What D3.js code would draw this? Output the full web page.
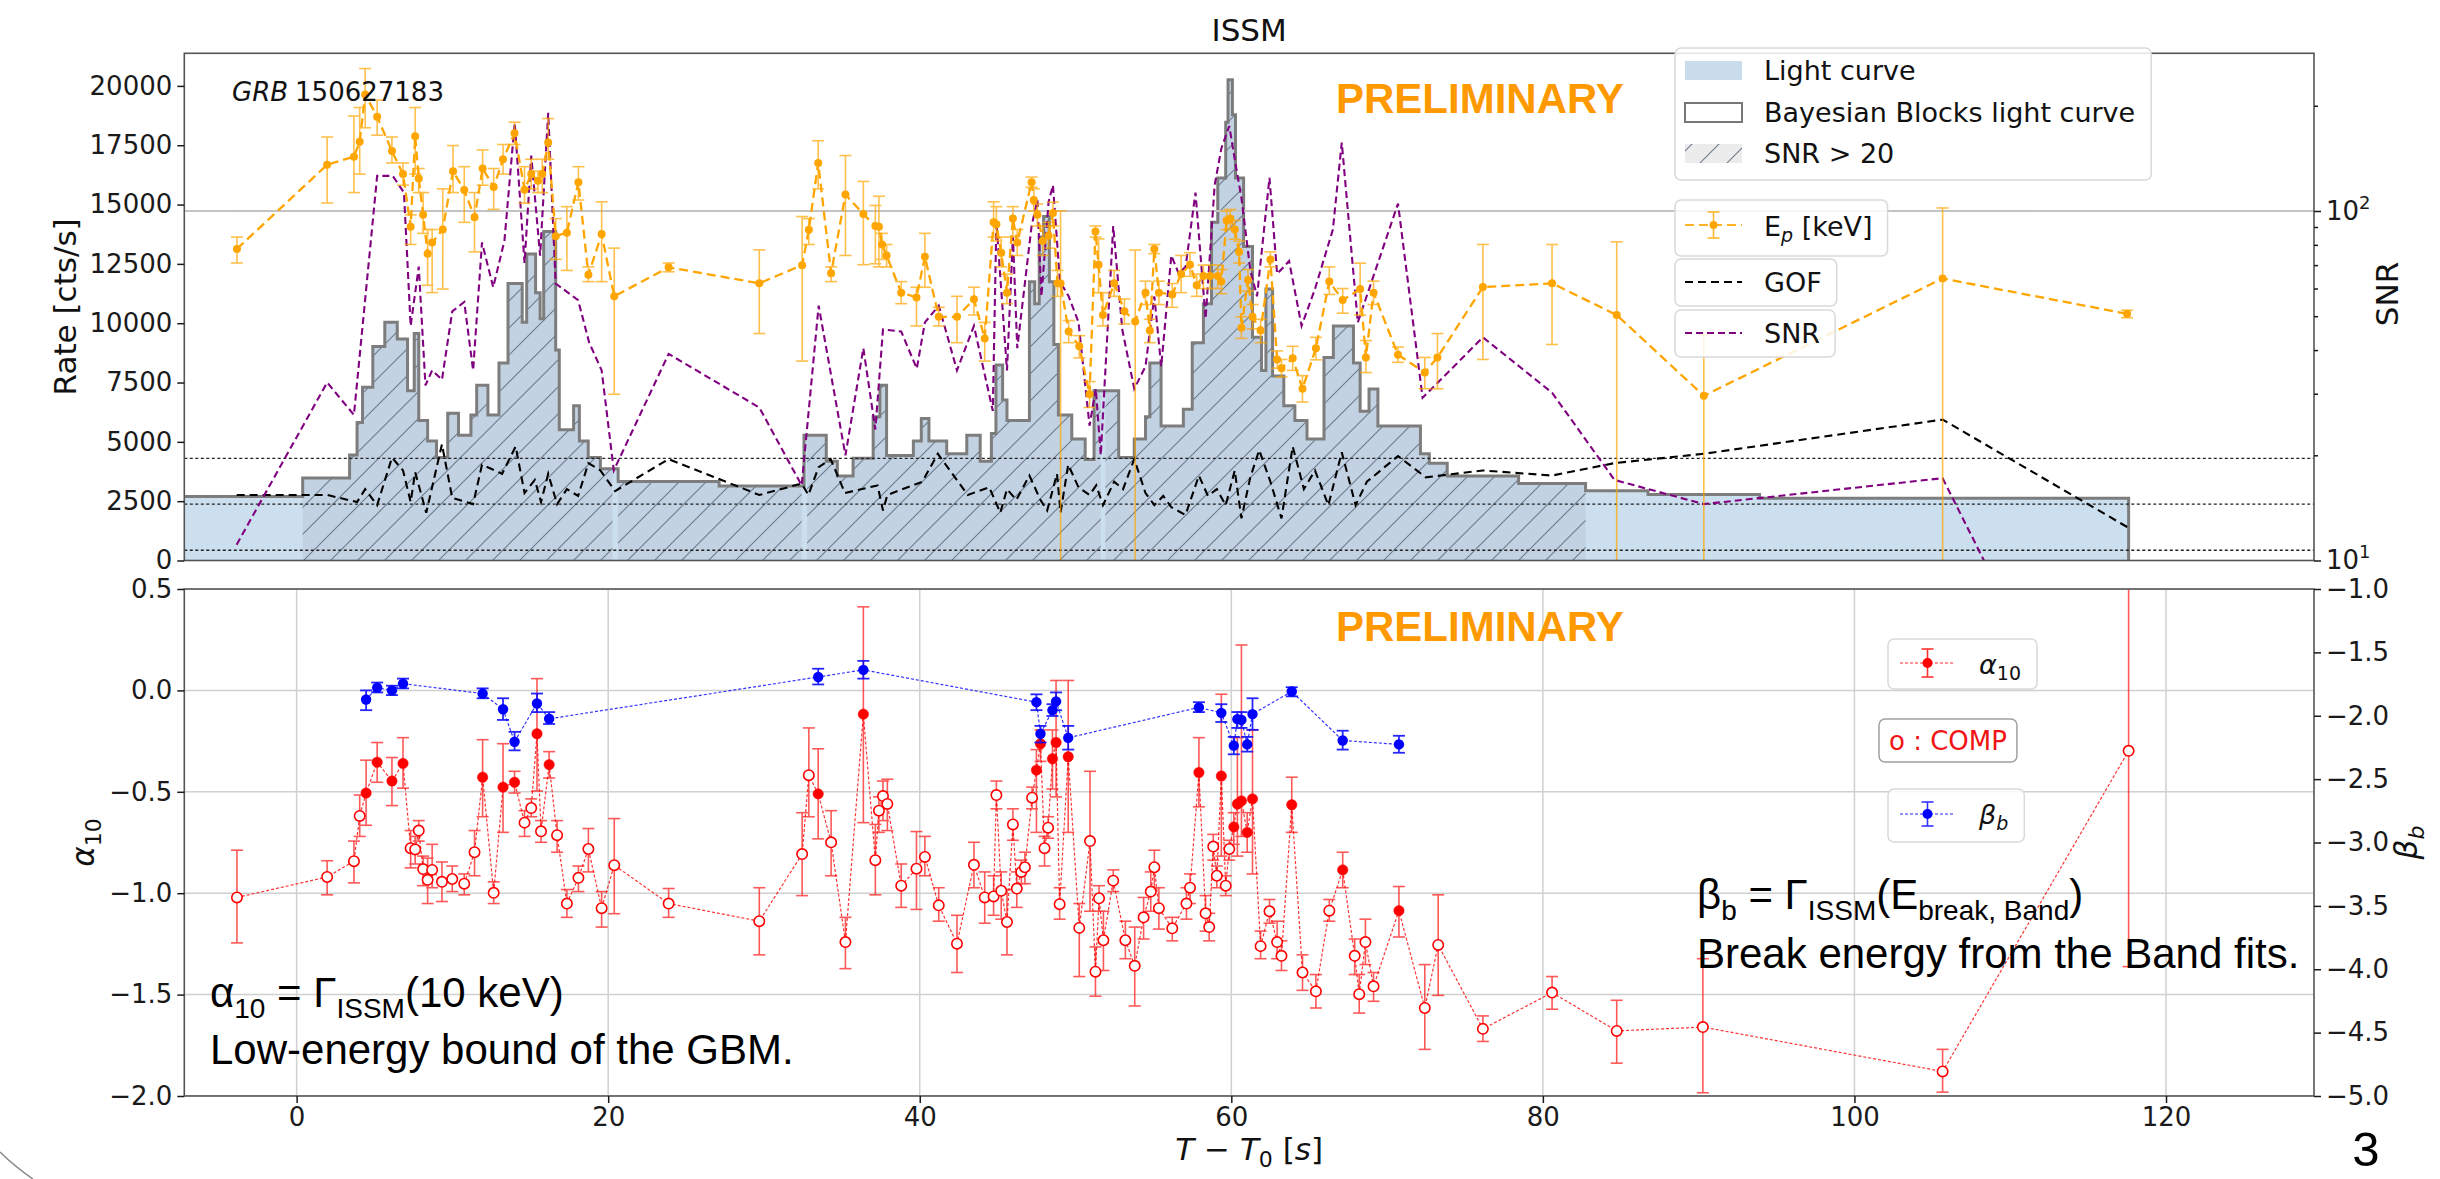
<!DOCTYPE html>
<html>
<head>
<meta charset="utf-8">
<script src="https://cdn.jsdelivr.net/npm/d3@7"></script>
<style>
html,body{margin:0;padding:0;background:#fff;}
svg{display:block;}
</style>
</head>
<body>
<svg id="chart" width="2440" height="1179"></svg>
<script>
// ---------------- data ----------------
const rateTicks = [0,2500,5000,7500,10000,12500,15000,17500,20000];
const timeTicks = [0,20,40,60,80,100,120];
const alphaTicks = [0.5,0,-0.5,-1,-1.5,-2];
const betaTicks = [-1,-1.5,-2,-2.5,-3,-3.5,-4,-4.5,-5];
const snrMajorTicks = [10,100];
const snrMinorTicks = [20,30,40,50,60,70,80,90,200];

// Bayesian-blocks light curve: [block start (s), rate (cts/s)]
const blocks = [
  [-7.5,2700],[0.39,3480],[3.40,4450],[3.88,5820],[4.23,7300],[4.89,9020],[5.66,10040],[6.46,9330],
  [7.12,7150],[7.55,9570],[7.84,5900],[8.41,5040],[8.98,4340],[9.70,6210],[10.39,5280],[11.19,6130],
  [11.56,7380],[12.28,6130],[12.99,8320],[13.57,11670],[14.48,10040],[14.77,12920],[15.34,11280],
  [15.63,10190],[15.86,13860],[16.63,8870],[16.86,5510],[17.78,6520],[18.15,5040],[18.72,4340],
  [19.50,3870],[20.64,3330],[27.12,3140],[32.57,5280],[34.00,4180],[34.71,3560],[35.72,4310],
  [37.01,6060],[37.44,7380],[37.87,4420],[39.59,5040],[40.10,5980],[40.59,5040],[41.73,4500],
  [43.02,5280],[43.88,4180],[44.60,5350],[44.89,8240],[45.32,6760],[45.60,5900],[47.04,11750],
  [47.38,10820],[47.67,13630],[47.95,14500],[48.32,11750],[48.61,9100],[48.90,6130],[49.76,5120],
  [50.62,4260],[51.19,7150],[52.77,4340],[53.77,5120],[54.49,6060],[54.77,8320],[55.49,5670],
  [56.92,6370],[57.49,9180],[58.21,10820],[58.73,14250],[59.13,16120],[59.64,18470],[59.79,20260],
  [60.07,18780],[60.27,16120],[60.79,13230],[61.36,9410],[61.94,8010],[62.22,11440],[62.65,7770],
  [63.37,6520],[64.08,5900],[64.86,5120],[65.95,8550],[66.55,9880],[67.84,8320],[68.27,6290],
  [68.84,7230],[69.41,5670],[72.14,4500],[72.71,4100],[73.86,3560],[78.44,3250],[82.74,2940],
  [86.75,2780],[93.91,2620]
];
const lcEnd = 117.6;
// time ranges with SNR > 20 (hatched)
const snrAbove20 = [[0.39,20.28],[20.62,32.42],[32.77,51.62],[51.92,82.74]];
// reference levels on the SNR axis
const snrLevels = [19.6,14.5,10.7];

// goodness of fit per time bin
const gof = [
  [-3.85,15.4],[1.96,15.4],[3.88,14.7],[4.40,16.0],[5.17,14.4],[6.12,19.7],[6.83,18.1],[7.32,14.7],
  [7.61,17.9],[8.32,13.7],[9.33,21.5],[9.99,15.1],[11.33,14.5],[11.90,18.8],[13.19,17.7],[14.06,21.2],
  [14.63,15.6],[15.29,17.0],[15.69,14.7],[16.15,17.7],[16.72,14.5],[17.35,16.0],[18.07,15.3],
  [18.73,19.0],[19.50,18.1],[20.44,15.8],[23.88,19.5],[29.70,15.4],[32.42,16.6],[32.85,15.4],
  [33.51,18.5],[34.28,19.5],[35.2,15.6],[37.29,16.4],[37.64,13.9],[37.92,15.4],[40.16,16.8],
  [41.16,20.2],[43.08,15.4],[44.46,16.2],[45.17,13.7],[45.6,16.0],[46.2,14.9],[47.04,17.5],
  [47.75,14.9],[48.18,13.9],[48.81,17.7],[49.04,13.7],[49.53,18.8],[50.19,16.2],[50.9,15.4],
  [51.33,16.4],[51.76,14.4],[52.48,16.8],[53.05,16.0],[53.77,19.5],[54.49,15.6],[55.06,14.4],
  [55.63,15.3],[56.15,14.2],[57.06,13.5],[57.92,17.5],[58.50,15.3],[59.07,16.0],[59.64,14.4],
  [60.22,18.1],[60.65,13.2],[61.22,17.3],[61.79,20.7],[62.51,16.8],[63.22,13.2],[63.94,21.2],
  [64.66,16.0],[65.37,18.1],[66.23,14.4],[67.09,20.4],[67.98,14.4],[68.7,16.8],[70.7,19.9],
  [72.48,17.3],[76.15,18.1],[80.59,17.5],[84.60,19.0],[90.33,20.2],[105.66,25.3],[117.6,12.4]
];

// signal-to-noise ratio per time bin
const snr = [
  [-3.85,11.1],[1.96,32.3],[3.68,26.1],[5.17,126],[6.17,126],[6.89,113],[7.32,46.9],[7.84,69.3],
  [8.27,31.7],[8.70,35],[9.33,32.9],[9.99,51.6],[10.76,54.9],[11.33,35],[11.90,81.3],[12.62,60.5],
  [13.34,82.2],[14.0,179],[14.63,71],[15.06,144],[15.63,74.5],[16.15,191],[16.63,62],[18.07,55.6],
  [18.78,42],[19.58,35],[20.36,18.1],[23.88,39],[29.70,27.4],[32.42,16.4],[33.51,53.6],[35.23,20],
  [36.38,40.5],[37.15,23.7],[37.64,45.8],[38.81,45.2],[39.81,35.4],[40.33,48],[41.22,53.6],
  [42.39,35],[43.48,46.9],[44.69,26.8],[44.92,92.9],[45.60,35],[45.98,84.3],[46.26,40.5],
  [47.18,90.6],[47.55,107.5],[47.81,57],[48.27,106.2],[48.55,118.5],[49.0,62.9],[49.56,57],
  [50.19,48.1],[50.9,24.3],[51.3,31],[51.62,20],[52.42,90.6],[53.0,45.8],[53.77,31],[54.49,35.9],
  [55.06,57],[55.5,35.9],[56.15,74.6],[56.63,66.1],[57.07,69.4],[57.7,112.9],[58.35,49.2],
  [58.93,118.5],[59.36,151],[59.87,175],[60.22,140.6],[60.65,108.9],[61.22,67.7],[61.65,57],
  [62.45,124.5],[62.94,66.1],[63.71,71.9],[64.51,46.9],[65.37,59.8],[66.52,88.5],[67.09,157],
  [68.12,48],[70.70,105],[72.28,29.2],[76.15,43.5],[80.59,30.2],[84.60,17],[90.33,14.5],
  [105.66,17.2],[117.6,1.5]
];

// peak energy Ep [keV]: [t, Ep, lower, upper]
const peakEnergy = [
  [-3.83,77.9,71.0,84.2],[1.96,135.6,105.4,162.8],[3.68,143,112.9,187],[4.05,157.7,127.5,197.7],
  [4.40,215.5,173,255.6],[5.17,186,164.8,207.7],[6.12,148.4,137.2,162.8],[6.83,127.5,118.5,137.2],
  [7.32,90.2,80.2,97.5],[7.61,163.6,127.5,197.7],[7.84,123.9,112.9,132.3],[8.12,97.5,86.3,112.9],
  [8.41,75.5,61.3,88.5],[8.70,81.2,58.4,88.5],[9.38,88.5,59.8,115.7],[10.04,130,112.9,153.9],
  [10.76,114.8,92.8,133.9],[11.42,95.9,76.4,112.9],[11.94,132.3,118.5,149.5],[12.65,117.1,101.1,132.3],
  [13.25,140.6,127.5,155],[13.99,166.8,155,179.5],[14.63,115,105.3,133.9],[15.06,127.5,115.7,140.6],
  [15.49,122,112.9,130],[15.77,127.5,112.9,140.6],[16.15,157,140.6,183.9],[16.63,84.7,72.7,95.1],
  [17.35,86.7,67.6,102.9],[18.09,120.9,107.5,133.9],[18.73,65.7,62.8,69.2],[19.58,85.9,62.8,106.2],
  [20.39,57,29.9,78.3],[23.88,69,67,71],[29.70,62.1,44.6,77.4],[32.45,70,37.2,96.4],
  [32.88,88.4,80.2,95.1],[33.48,137.2,115.7,158.9],[34.31,66.3,62.8,69.2],[35.23,111.5,74.6,144.1],
  [36.38,98,70.2,121.5],[37.15,90.6,70.6,103.7],[37.38,90.2,69.2,110.2],[37.58,80.2,72.7,86.3],
  [37.87,74.6,69.2,80.2],[38.81,58.4,54.3,62.8],[39.79,56.6,46.9,60.5],[40.33,74,60.5,86.3],
  [41.22,49.8,46.9,53],[42.39,49.8,42,57],[43.48,55.9,50.4,60.5],[44.17,43.2,37.2,48],
  [44.74,92.8,84.2,106.2],[44.92,91.7,82.1,102.9],[45.23,75.9,69.2,84.2],[45.60,58.4,54.3,66],
  [45.98,95.2,84.2,102.9],[46.26,81.2,74.6,88.5],[47.18,120.9,117,125],[47.32,107.5,100,115.7],
  [47.55,97.5,90.6,104.7],[47.90,82.1,74.6,90.6],[48.27,84.9,78.3,92.8],[48.55,98.7,90.6,106],
  [48.84,62.1,57,67.6],[49.04,62,1,100],[49.56,45.2,42,48.6],[50.24,41,38,44],[50.90,29.9,27.4,32.5],
  [51.28,87.3,84.2,90.6],[51.48,70.2,58.4,83.2],[51.76,50.4,46.9,58.4],[52.48,62.1,57,67.6],
  [53.14,51.7,47.5,56],[53.83,48.3,1,77.3],[54.49,58.4,54,63],[54.77,45.5,42,49],[55.06,77.9,75.5,80.2],
  [55.35,58.4,54,63],[56.21,57.7,53,62],[56.78,66,58.4,74.6],[57.35,70.2,65,76],[57.78,61.3,57,66],
  [58.21,65.2,60,70],[58.64,65.2,60,70],[59.13,65.2,60,70],[59.36,62.8,58,68],[59.70,94,88.5,100],
  [59.93,95.2,89,101],[60.22,88.5,83,94],[60.50,76.4,71,82],[60.65,46.3,43.2,49.8],[61.07,63.5,59,68],
  [61.36,49.8,46,54],[61.88,45.5,42,49],[62.51,72.7,69.2,76.4],[62.94,37.6,35.5,39.8],
  [63.22,35.5,33.5,37.6],[63.94,37.9,35,41],[64.57,31,28.4,33.8],[65.43,40.5,37.5,43.5],
  [66.29,62.8,57.7,69.2],[67.15,55.6,51,60],[68.27,59.8,50.4,70.9],[68.64,38.1,34.5,42.6],
  [69.13,58.4,54,63],[70.70,38.8,36.9,40.8],[72.42,34.5,31,38.1],[73.23,38.1,31,44.6],
  [76.15,60.6,37.6,80.2],[80.59,62.1,41.5,80.2],[84.74,50.4,1,81.6],[90.33,29.6,1,44.3],
  [105.66,64.1,1,102],[117.5,50.8,49.5,52]
];

// low-energy index at 10 keV: [t, value, lower, upper, model] (B = Band, C = COMP)
const alpha10 = [
  [-3.83,-1.021,-1.245,-0.788,'C'],[1.96,-0.920,-1.008,-0.840,'C'],[3.68,-0.842,-0.949,-0.743,'C'],
  [4.05,-0.619,-0.720,-0.516,'C'],[4.46,-0.506,-0.665,-0.344,'B'],[5.17,-0.354,-0.453,-0.257,'B'],
  [6.12,-0.447,-0.568,-0.331,'B'],[6.83,-0.360,-0.482,-0.233,'B'],[7.32,-0.778,-0.875,-0.691,'C'],
  [7.61,-0.784,-0.856,-0.720,'C'],[7.84,-0.691,-0.743,-0.642,'C'],[8.12,-0.881,-0.963,-0.817,'C'],
  [8.41,-0.934,-1.051,-0.827,'C'],[8.70,-0.885,-0.973,-0.759,'C'],[9.33,-0.944,-1.041,-0.846,'C'],
  [9.99,-0.930,-0.992,-0.866,'C'],[10.76,-0.953,-1.008,-0.905,'C'],[11.42,-0.798,-0.914,-0.691,'C'],
  [11.94,-0.428,-0.623,-0.243,'B'],[12.65,-0.998,-1.051,-0.944,'C'],[13.25,-0.477,-0.700,-0.263,'B'],
  [13.99,-0.453,-0.506,-0.399,'B'],[14.63,-0.652,-0.720,-0.593,'C'],[15.06,-0.580,-0.623,-0.535,'C'],
  [15.43,-0.214,-0.496,0.058,'B'],[15.69,-0.695,-0.749,-0.642,'C'],[16.21,-0.366,-0.432,-0.302,'B'],
  [16.72,-0.714,-0.798,-0.642,'C'],[17.35,-1.051,-1.119,-0.982,'C'],[18.09,-0.924,-0.992,-0.866,'C'],
  [18.73,-0.782,-0.895,-0.681,'C'],[19.58,-1.074,-1.167,-0.992,'C'],[20.39,-0.862,-1.101,-0.632,'C'],
  [23.88,-1.051,-1.119,-0.977,'C'],[29.70,-1.138,-1.304,-0.973,'C'],[32.45,-0.807,-1.012,-0.603,'C'],
  [32.88,-0.418,-0.623,-0.185,'C'],[33.48,-0.510,-0.732,-0.288,'B'],[34.31,-0.749,-0.914,-0.593,'C'],
  [35.23,-1.241,-1.372,-1.119,'C'],[36.38,-0.117,-0.652,0.412,'B'],[37.15,-0.837,-1.008,-0.661,'C'],
  [37.38,-0.593,-0.700,-0.525,'C'],[37.64,-0.521,-0.642,-0.447,'C'],[37.92,-0.560,-0.691,-0.438,'C'],
  [38.81,-0.963,-1.070,-0.856,'C'],[39.79,-0.879,-1.080,-0.696,'C'],[40.33,-0.821,-0.914,-0.720,'C'],
  [41.22,-1.060,-1.138,-0.973,'C'],[42.39,-1.249,-1.391,-1.109,'C'],[43.48,-0.860,-0.973,-0.749,'C'],
  [44.17,-1.021,-1.148,-0.895,'C'],[44.74,-1.016,-1.109,-0.914,'C'],[44.92,-0.516,-0.584,-0.447,'C'],
  [45.23,-0.988,-1.128,-0.895,'C'],[45.60,-1.142,-1.304,-0.982,'C'],[45.98,-0.661,-0.739,-0.584,'C'],
  [46.23,-0.977,-1.070,-0.895,'C'],[46.52,-0.895,-0.953,-0.837,'C'],[46.75,-0.872,-0.953,-0.798,'C'],
  [47.21,-0.529,-0.584,-0.477,'C'],[47.49,-0.393,-0.700,-0.292,'B'],[47.75,-0.263,-0.350,-0.195,'B'],
  [48.01,-0.778,-0.866,-0.720,'C'],[48.24,-0.677,-0.729,-0.623,'C'],[48.52,-0.337,-0.486,-0.195,'B'],
  [48.75,-0.257,-0.525,0.049,'B'],[48.98,-1.054,-1.128,-0.973,'C'],[49.53,-0.327,-0.700,0.049,'B'],
  [50.24,-1.171,-1.411,-1.051,'C'],[50.93,-0.743,-1.089,-0.399,'C'],[51.28,-1.387,-1.508,-1.265,'C'],
  [51.51,-1.025,-1.089,-0.963,'C'],[51.79,-1.232,-1.381,-1.089,'C'],[52.42,-0.938,-0.992,-0.885,'C'],
  [53.20,-1.232,-1.323,-1.138,'C'],[53.80,-1.358,-1.556,-1.167,'C'],[54.37,-1.119,-1.226,-1.021,'C'],
  [54.83,-0.992,-1.089,-0.895,'C'],[55.06,-0.872,-0.973,-0.788,'C'],[55.35,-1.074,-1.177,-0.973,'C'],
  [56.21,-1.173,-1.235,-1.119,'C'],[57.12,-1.051,-1.128,-0.973,'C'],[57.35,-0.973,-1.051,-0.905,'C'],
  [57.92,-0.405,-0.574,-0.233,'B'],[58.35,-1.099,-1.187,-1.012,'C'],[58.58,-1.167,-1.235,-1.099,'C'],
  [58.84,-0.770,-0.837,-0.710,'C'],[59.07,-0.914,-0.973,-0.866,'C'],[59.36,-0.422,-0.817,-0.019,'B'],
  [59.64,-0.963,-1.012,-0.914,'C'],[59.87,-0.782,-0.837,-0.739,'C'],[60.16,-0.673,-0.759,-0.603,'B'],
  [60.39,-0.560,-0.817,-0.233,'B'],[60.65,-0.545,-0.720,0.224,'B'],[61.02,-0.700,-0.798,-0.603,'B'],
  [61.36,-0.535,-0.905,-0.195,'B'],[61.88,-1.261,-1.323,-1.187,'C'],[62.45,-1.089,-1.148,-1.031,'C'],
  [62.94,-1.241,-1.323,-1.138,'C'],[63.22,-1.309,-1.381,-1.235,'C'],[63.88,-0.564,-0.700,-0.428,'B'],
  [64.57,-1.391,-1.479,-1.304,'C'],[65.43,-1.484,-1.566,-1.401,'C'],[66.29,-1.086,-1.138,-1.031,'C'],
  [67.15,-0.885,-0.973,-0.798,'B'],[67.92,-1.309,-1.401,-1.226,'C'],[68.21,-1.498,-1.591,-1.401,'C'],
  [68.61,-1.241,-1.352,-1.128,'C'],[69.13,-1.459,-1.533,-1.391,'C'],[70.76,-1.086,-1.216,-0.967,'B'],
  [72.42,-1.566,-1.770,-1.352,'C'],[73.28,-1.255,-1.504,-1.008,'C'],[76.15,-1.669,-1.731,-1.605,'C'],
  [80.59,-1.490,-1.572,-1.411,'C'],[84.74,-1.679,-1.838,-1.528,'C'],[90.27,-1.660,-1.984,-1.323,'C'],
  [105.66,-1.879,-1.981,-1.770,'C'],[117.6,-0.298,-1.362,1.0,'C']
];

// index at the Band break energy: [t, value, lower, upper]
const betaB = [
  [4.46,-1.872,-1.956,-1.800],[5.17,-1.778,-1.816,-1.738],[6.12,-1.800,-1.837,-1.763],
  [6.83,-1.747,-1.784,-1.707],[11.94,-1.825,-1.862,-1.784],[13.25,-1.949,-2.033,-1.862],
  [13.99,-2.205,-2.273,-2.127],[15.43,-1.903,-1.971,-1.825],[16.21,-2.024,-2.065,-1.971],
  [33.48,-1.694,-1.753,-1.629],[36.38,-1.638,-1.707,-1.567],[47.49,-1.893,-1.956,-1.831],
  [47.75,-2.142,-2.211,-2.080],[48.52,-1.956,-2.002,-1.909],[48.75,-1.887,-1.956,-1.816],
  [49.53,-2.174,-2.267,-2.080],[57.92,-1.934,-1.971,-1.893],[59.36,-1.977,-2.049,-1.909],
  [60.16,-2.236,-2.304,-2.167],[60.39,-2.027,-2.096,-1.971],[60.65,-2.033,-2.096,-1.971],
  [61.02,-2.226,-2.283,-2.167],[61.36,-1.987,-2.111,-1.862],[63.88,-1.809,-1.847,-1.775],
  [67.15,-2.195,-2.267,-2.118],[70.76,-2.226,-2.292,-2.158]
];

// ---------------- layout & scales ----------------
const F = "'DejaVu Sans', sans-serif";
const FA = "'Liberation Sans', Arial, sans-serif";
const L = 184.3, R = 2314, T1 = 53.3, B1 = 560.5, T2 = 589, B2 = 1096;
const ORANGE = '#FFA500', PURPLE = '#800080';
const LEG = 27;

const x = d3.scaleLinear().domain([-7.21, 129.5]).range([L, R]);
const yRate = d3.scaleLinear().domain([0, 21374]).range([B1, T1]);
const yLog = d3.scaleLog().domain([10, 282.6]).range([B1, T1]);
const yA = d3.scaleLinear().domain([-2, 0.5]).range([B2, T2]);
const yB = d3.scaleLinear().domain([-5, -1]).range([B2, T2]);

const svg = d3.select('#chart');
svg.append('rect').attr('width', 2440).attr('height', 1179).attr('fill', '#fff');
const defs = svg.append('defs');
defs.append('clipPath').attr('id', 'clipTop').append('rect')
  .attr('x', L).attr('y', T1).attr('width', R - L).attr('height', B1 - T1);
defs.append('clipPath').attr('id', 'clipBot').append('rect')
  .attr('x', L).attr('y', T2).attr('width', R - L).attr('height', B2 - T2);
const hatch = defs.append('pattern').attr('id', 'hatch')
  .attr('patternUnits', 'userSpaceOnUse').attr('width', 27).attr('height', 27);
hatch.append('path').attr('d', 'M0,27 L27,0 M-6.75,6.75 L6.75,-6.75 M20.25,33.75 L33.75,20.25')
  .attr('stroke', '#6d7c8c').attr('stroke-width', 1.1);

// ---------------- upper panel ----------------
const lcPts = blocks.concat([[lcEnd, 0]]);
const lcArea = d3.area().x(d => x(d[0])).y0(yRate(0)).y1(d => yRate(d[1])).curve(d3.curveStepAfter);
const lcLine = d3.line().x(d => x(d[0])).y(d => yRate(d[1])).curve(d3.curveStepAfter);
defs.append('clipPath').attr('id', 'lcClip').append('path').attr('d', lcArea(lcPts));

const gTop = svg.append('g').attr('clip-path', 'url(#clipTop)');
gTop.append('path').attr('d', lcArea(lcPts)).attr('fill', '#cbdfee');
const hg = gTop.append('g').attr('clip-path', 'url(#lcClip)');
snrAbove20.forEach(([a, b]) => {
  hg.append('rect').attr('x', x(a)).attr('y', T1).attr('width', x(b) - x(a)).attr('height', B1 - T1)
    .attr('fill', '#c3d2e3');
  hg.append('rect').attr('x', x(a)).attr('y', T1).attr('width', x(b) - x(a)).attr('height', B1 - T1)
    .attr('fill', 'url(#hatch)');
});
gTop.append('path').attr('d', lcLine(lcPts)).attr('fill', 'none')
  .attr('stroke', '#7d7d7d').attr('stroke-width', 3);

// grid on the SNR axis
gTop.append('line').attr('x1', L).attr('x2', R).attr('y1', yLog(100)).attr('y2', yLog(100))
  .attr('stroke', '#c4c4c4').attr('stroke-width', 1.8);
// reference levels
gTop.selectAll('.lvl').data(snrLevels).join('line')
  .attr('x1', L).attr('x2', R).attr('y1', d => yLog(d)).attr('y2', d => yLog(d))
  .attr('stroke', '#222').attr('stroke-width', 1.4).attr('stroke-dasharray', '3,2.5');

const logLine = d3.line().x(d => x(d[0])).y(d => yLog(d[1]));
gTop.append('path').attr('d', logLine(gof)).attr('fill', 'none')
  .attr('stroke', '#000').attr('stroke-width', 2.1).attr('stroke-dasharray', '8,5');
gTop.append('path').attr('d', logLine(snr)).attr('fill', 'none')
  .attr('stroke', PURPLE).attr('stroke-width', 2.1).attr('stroke-dasharray', '7,4');

// Ep with error bars
function errBars(g, data, ys, color, cap, sw, op) {
  const eg = g.append('g').attr('stroke', color).attr('stroke-width', sw).attr('opacity', op);
  data.forEach(d => {
    const cx = x(d[0]);
    eg.append('line').attr('x1', cx).attr('x2', cx).attr('y1', ys(d[2])).attr('y2', ys(d[3]));
    eg.append('line').attr('x1', cx - cap).attr('x2', cx + cap).attr('y1', ys(d[2])).attr('y2', ys(d[2]));
    eg.append('line').attr('x1', cx - cap).attr('x2', cx + cap).attr('y1', ys(d[3])).attr('y2', ys(d[3]));
  });
}
errBars(gTop, peakEnergy, yLog, ORANGE, 6, 1.6, 0.7);
gTop.append('path').attr('d', logLine(peakEnergy)).attr('fill', 'none')
  .attr('stroke', ORANGE).attr('stroke-width', 2.3).attr('stroke-dasharray', '9,5');
gTop.selectAll('.ep').data(peakEnergy).join('circle')
  .attr('cx', d => x(d[0])).attr('cy', d => yLog(d[1])).attr('r', 4).attr('fill', ORANGE);

// ---------------- lower panel ----------------
const gBot = svg.append('g').attr('clip-path', 'url(#clipBot)');
gBot.selectAll('.vg').data(timeTicks).join('line')
  .attr('x1', d => x(d)).attr('x2', d => x(d)).attr('y1', T2).attr('y2', B2)
  .attr('stroke', '#d0d0d0').attr('stroke-width', 1.5);
gBot.selectAll('.hgr').data(alphaTicks).join('line')
  .attr('x1', L).attr('x2', R).attr('y1', d => yA(d)).attr('y2', d => yA(d))
  .attr('stroke', '#d0d0d0').attr('stroke-width', 1.5);

errBars(gBot, alpha10, yA, '#FF0000', 6, 1.6, 0.65);
gBot.append('path').attr('d', d3.line().x(d => x(d[0])).y(d => yA(d[1]))(alpha10))
  .attr('fill', 'none').attr('stroke', '#FF0000').attr('stroke-width', 1.2)
  .attr('stroke-dasharray', '3,2').attr('opacity', 0.8);
gBot.selectAll('.am').data(alpha10).join('circle')
  .attr('cx', d => x(d[0])).attr('cy', d => yA(d[1])).attr('r', 5.2)
  .attr('fill', d => d[4] === 'B' ? '#FF0000' : '#fff')
  .attr('stroke', '#FF0000').attr('stroke-width', d => d[4] === 'B' ? 0.5 : 1.6);

errBars(gBot, betaB, yB, '#0000FF', 6, 1.8, 0.85);
gBot.append('path').attr('d', d3.line().x(d => x(d[0])).y(d => yB(d[1]))(betaB))
  .attr('fill', 'none').attr('stroke', '#0000FF').attr('stroke-width', 1.2)
  .attr('stroke-dasharray', '3,2').attr('opacity', 0.8);
gBot.selectAll('.bm').data(betaB).join('circle')
  .attr('cx', d => x(d[0])).attr('cy', d => yB(d[1])).attr('r', 5.2).attr('fill', '#0000FF');

// ---------------- frames & axes ----------------
[[T1, B1], [T2, B2]].forEach(([a, b]) => {
  svg.append('rect').attr('x', L).attr('y', a).attr('width', R - L).attr('height', b - a)
    .attr('fill', 'none').attr('stroke', '#555').attr('stroke-width', 1.6);
});
function styleAxis(g) {
  g.attr('font-family', F).attr('font-size', 26).attr('color', '#1a1a1a');
  g.select('.domain').remove();
  g.selectAll('.tick line').attr('stroke-width', 1.5);
}
svg.append('g').attr('transform', `translate(${L},0)`)
  .call(d3.axisLeft(yRate).tickValues(rateTicks).tickSize(7).tickPadding(5).tickFormat(d3.format('d')))
  .call(styleAxis);
const snrAx = svg.append('g').attr('transform', `translate(${R},0)`)
  .call(d3.axisRight(yLog).tickValues(snrMajorTicks).tickSize(7).tickPadding(5).tickFormat(() => ''))
  .call(styleAxis);
snrAx.selectAll('.tick text').each(function (d) {
  const t = d3.select(this);
  t.append('tspan').text('10');
  t.append('tspan').text(String(Math.round(Math.log10(d)))).attr('font-size', 18).attr('dy', -11);
});
svg.append('g').attr('transform', `translate(${R},0)`)
  .call(d3.axisRight(yLog).tickValues(snrMinorTicks).tickSize(4).tickFormat(() => ''))
  .call(styleAxis);
svg.append('g').attr('transform', `translate(${L},0)`)
  .call(d3.axisLeft(yA).tickValues(alphaTicks).tickSize(7).tickPadding(5).tickFormat(d3.format('.1f')))
  .call(styleAxis);
svg.append('g').attr('transform', `translate(${R},0)`)
  .call(d3.axisRight(yB).tickValues(betaTicks).tickSize(7).tickPadding(5).tickFormat(d3.format('.1f')))
  .call(styleAxis);
svg.append('g').attr('transform', `translate(0,${B2})`)
  .call(d3.axisBottom(x).tickValues(timeTicks).tickSize(7).tickPadding(4.5))
  .call(styleAxis);

// ---------------- text helpers ----------------
function rich(g, xx, yy, parts, o) {
  const t = g.append('text').attr('x', xx).attr('y', yy)
    .attr('font-family', o.family || F).attr('font-size', o.size).attr('fill', o.fill || '#111');
  if (o.anchor) t.attr('text-anchor', o.anchor);
  if (o.weight) t.attr('font-weight', o.weight);
  parts.forEach(p => {
    const s = t.append('tspan').text(p.t);
    if (p.size) s.attr('font-size', p.size);
    if (p.it) s.attr('font-style', 'italic');
    if (p.dy) s.attr('dy', p.dy);
    if (p.dx) s.attr('dx', p.dx);
  });
  return t;
}

// title & axis labels
rich(svg, (L + R) / 2, 41, [{ t: 'ISSM' }], { size: 31, anchor: 'middle' });
rich(svg, 232, 101, [{ t: 'GRB', it: true }, { t: '150627183', dx: 7 }], { size: 26 });
const yl1 = svg.append('g').attr('transform', `translate(65,${(T1 + B1) / 2}) rotate(-90)`);
rich(yl1, 0, 11, [{ t: 'Rate [cts/s]' }], { size: 31, anchor: 'middle' });
const yl2 = svg.append('g').attr('transform', `translate(2387,294) rotate(-90)`);
rich(yl2, 0, 11, [{ t: 'SNR' }], { size: 31, anchor: 'middle' });
const yl3 = svg.append('g').attr('transform', `translate(88,${(T2 + B2) / 2}) rotate(-90)`);
rich(yl3, 0, 6, [{ t: 'α', it: true }, { t: '10', size: 22, dy: 7 }], { size: 31, anchor: 'middle' });
const yl4 = svg.append('g').attr('transform', `translate(2411,${(T2 + B2) / 2}) rotate(-90)`);
rich(yl4, 0, 6, [{ t: 'β', it: true }, { t: 'b', it: true, size: 22, dy: 7 }], { size: 31, anchor: 'middle' });
rich(svg, (L + R) / 2, 1160, [
  { t: 'T', it: true }, { t: ' − ' }, { t: 'T', it: true }, { t: '0', size: 22, dy: 7 },
  { t: ' [', dy: -7 }, { t: 's', it: true }, { t: ']' }
], { size: 31, anchor: 'middle' });

// PRELIMINARY marks
rich(svg, 1336, 113, [{ t: 'PRELIMINARY' }], { family: FA, size: 42, weight: 'bold', fill: '#FF9900' });
rich(svg, 1336, 641, [{ t: 'PRELIMINARY' }], { family: FA, size: 42, weight: 'bold', fill: '#FF9900' });

// definitions written on the lower panel
rich(svg, 210, 1007, [
  { t: 'α' }, { t: '10', size: 28, dy: 11 }, { t: ' = Γ', dy: -11 }, { t: 'ISSM', size: 28, dy: 11 },
  { t: '(10 keV)', dy: -11 }
], { family: FA, size: 42, fill: '#000' });
rich(svg, 210, 1064, [{ t: 'Low-energy bound of the GBM.' }], { family: FA, size: 42, fill: '#000' });
rich(svg, 1697, 909, [
  { t: 'β' }, { t: 'b', size: 28, dy: 11 }, { t: ' = Γ', dy: -11 }, { t: 'ISSM', size: 28, dy: 11 },
  { t: '(E', dy: -11 }, { t: 'break, Band', size: 28, dy: 11 }, { t: ')', dy: -11 }
], { family: FA, size: 42, fill: '#000' });
rich(svg, 1697, 968, [{ t: 'Break energy from the Band fits.' }], { family: FA, size: 42, fill: '#000' });

// page number and corner ornament
rich(svg, 2366, 1166, [{ t: '3' }], { family: FA, size: 49, anchor: 'middle', fill: '#000' });
svg.append('path').attr('d', 'M0,1152 Q14,1166 33,1179').attr('fill', 'none')
  .attr('stroke', '#888').attr('stroke-width', 1.5);

// ---------------- legends ----------------
function box(g, x0, y0, w, h, stroke) {
  return g.insert('rect', ':first-child').attr('x', x0).attr('y', y0).attr('width', w).attr('height', h)
    .attr('rx', 6).attr('fill', '#fff').attr('fill-opacity', 0.85)
    .attr('stroke', stroke || '#d9d9d9').attr('stroke-width', 1.5);
}
function legendErr(g, x1, x2, yc, color, dash, r, half) {
  g.append('line').attr('x1', x1).attr('x2', x2).attr('y1', yc).attr('y2', yc)
    .attr('stroke', color).attr('stroke-width', dash === '3,2' ? 1.2 : 2.2).attr('stroke-dasharray', dash)
    .attr('opacity', 0.85);
  const cx = (x1 + x2) / 2;
  const eg = g.append('g').attr('stroke', color).attr('stroke-width', 1.6).attr('opacity', 0.8);
  eg.append('line').attr('x1', cx).attr('x2', cx).attr('y1', yc - half).attr('y2', yc + half);
  eg.append('line').attr('x1', cx - 6).attr('x2', cx + 6).attr('y1', yc - half).attr('y2', yc - half);
  eg.append('line').attr('x1', cx - 6).attr('x2', cx + 6).attr('y1', yc + half).attr('y2', yc + half);
  g.append('circle').attr('cx', cx).attr('cy', yc).attr('r', r).attr('fill', color);
}

// main legend
const lg1 = svg.append('g');
lg1.append('rect').attr('x', 1685).attr('y', 61).attr('width', 57).attr('height', 19).attr('fill', '#c9dcec');
lg1.append('rect').attr('x', 1685).attr('y', 103).attr('width', 57).attr('height', 19)
  .attr('fill', '#fff').attr('stroke', '#777').attr('stroke-width', 2);
lg1.append('rect').attr('x', 1685).attr('y', 144).attr('width', 57).attr('height', 19).attr('fill', '#ececec');
lg1.append('rect').attr('x', 1685).attr('y', 144).attr('width', 57).attr('height', 19).attr('fill', 'url(#hatch)');
const t1 = rich(lg1, 1764, 80, [{ t: 'Light curve' }], { size: LEG });
const t2 = rich(lg1, 1764, 122, [{ t: 'Bayesian Blocks light curve' }], { size: LEG });
const t3 = rich(lg1, 1764, 163, [{ t: 'SNR > 20' }], { size: LEG });
const w1 = Math.max(t1.node().getComputedTextLength(), t2.node().getComputedTextLength(), t3.node().getComputedTextLength());
box(lg1, 1675, 48, 1764 + w1 + 16 - 1675, 132);

// Ep / GOF / SNR legends
const lgE = svg.append('g');
legendErr(lgE, 1685, 1742, 225, ORANGE, '9,5', 4, 13);
const tE = rich(lgE, 1764, 236, [{ t: 'E' }, { t: 'p', it: true, size: 19, dy: 6 }, { t: ' [keV]', dy: -6 }], { size: LEG });
box(lgE, 1675, 200, 1764 + tE.node().getComputedTextLength() + 15 - 1675, 56);

const lgG = svg.append('g');
lgG.append('line').attr('x1', 1685).attr('x2', 1742).attr('y1', 282).attr('y2', 282)
  .attr('stroke', '#000').attr('stroke-width', 2.1).attr('stroke-dasharray', '8,5');
const tG = rich(lgG, 1764, 292, [{ t: 'GOF' }], { size: LEG });
box(lgG, 1675, 259, 1764 + tG.node().getComputedTextLength() + 15 - 1675, 47);

const lgS = svg.append('g');
lgS.append('line').attr('x1', 1685).attr('x2', 1742).attr('y1', 333).attr('y2', 333)
  .attr('stroke', PURPLE).attr('stroke-width', 2.1).attr('stroke-dasharray', '7,4');
const tS = rich(lgS, 1764, 343, [{ t: 'SNR' }], { size: LEG });
box(lgS, 1675, 310, 1764 + tS.node().getComputedTextLength() + 15 - 1675, 47);

// lower-panel legends
const lgA = svg.append('g');
legendErr(lgA, 1900, 1955, 663, '#FF0000', '3,2', 5, 14);
const tA = rich(lgA, 1979, 674, [{ t: 'α', it: true }, { t: '10', size: 19, dy: 6 }], { size: LEG });
box(lgA, 1888, 639, 1979 + tA.node().getComputedTextLength() + 16 - 1888, 50);

const lgC = svg.append('g');
const tC = rich(lgC, 1889, 750, [{ t: 'o : COMP' }], { size: 26, fill: '#f01414' });
box(lgC, 1879, 719, 1889 + tC.node().getComputedTextLength() + 10 - 1879, 43, '#a0a0a0');

const lgB = svg.append('g');
legendErr(lgB, 1900, 1955, 814, '#0000FF', '3,2', 5, 12);
const tB = rich(lgB, 1979, 824, [{ t: 'β', it: true }, { t: 'b', it: true, size: 19, dy: 6 }], { size: LEG });
box(lgB, 1888, 789, 1979 + tB.node().getComputedTextLength() + 16 - 1888, 53);
</script>
</body>
</html>
